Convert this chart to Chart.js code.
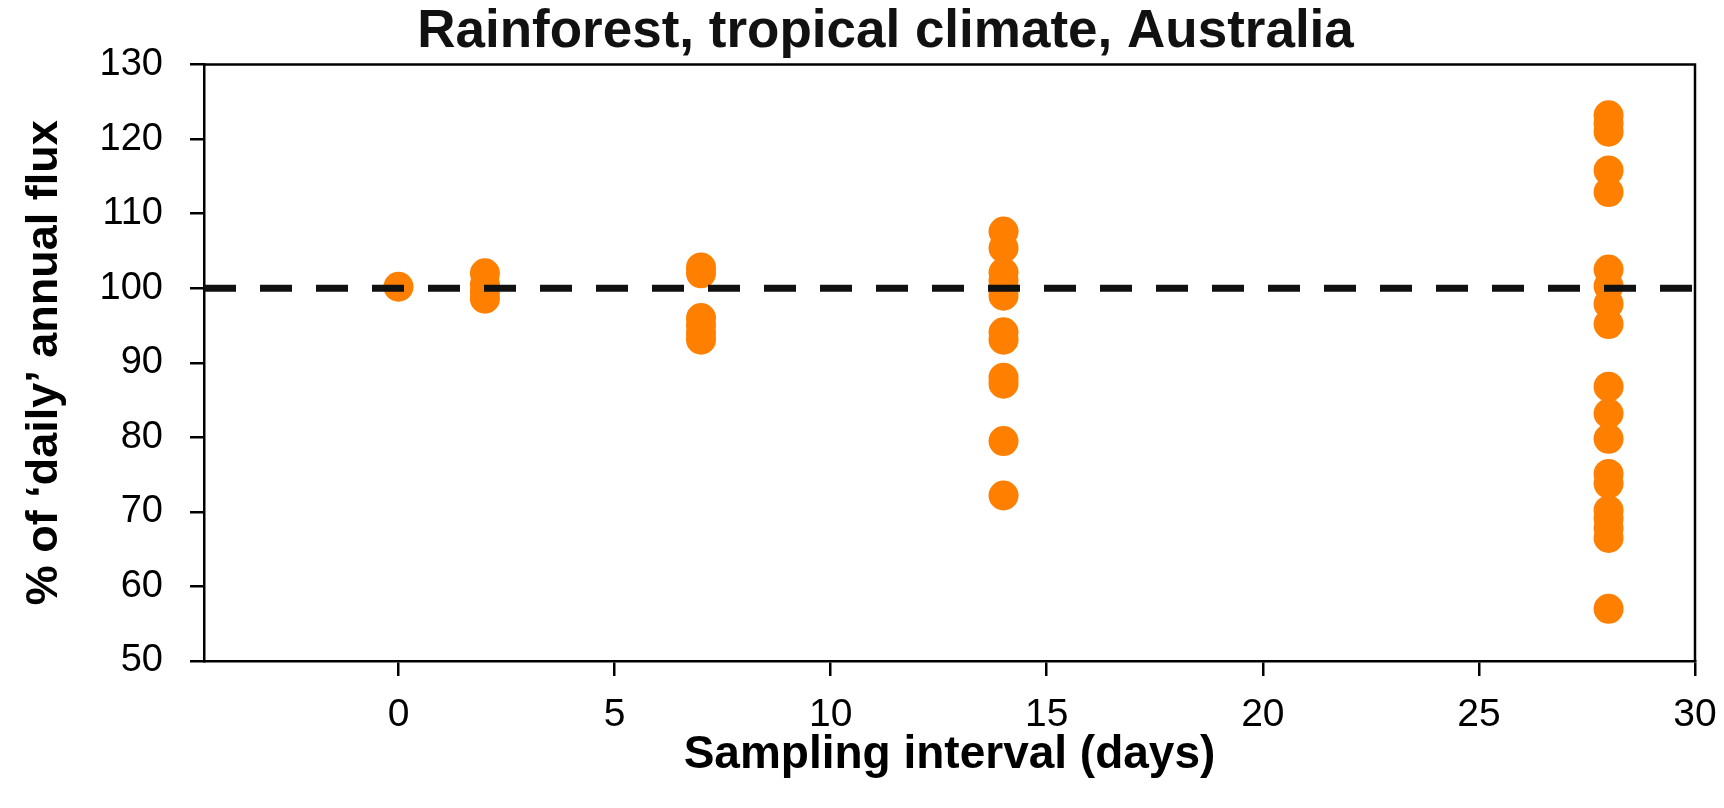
<!DOCTYPE html>
<html>
<head>
<meta charset="utf-8">
<script src="https://cdn.jsdelivr.net/npm/chart.js@4"></script>
<style>
  html, body { margin: 0; padding: 0; background: #fff; }
  canvas { display: block; }
</style>
</head>
<body>
<canvas id="fluxChart" width="1724" height="808"></canvas>
<script>
// sampling intervals (days) and the % of the daily-based annual flux for each run
const day0 = [100.2];
const day2 = [102.0, 100.5, 99.5, 98.6];
const day7 = [102.8, 102.0, 96.0, 95.0, 94.0, 93.1];
const day14 = [107.6, 105.4, 102.1, 101.0, 100.0, 99.0, 94.1, 93.1, 88.0, 87.2, 79.5, 72.2];
const day28 = [123.2, 122.1, 121.0, 115.8, 112.9, 102.5, 100.3, 97.9, 95.2, 86.8, 83.2, 79.8,
               75.1, 73.8, 70.2, 69.1, 67.8, 66.5, 57.0];

const intervals = [0, 2, 7, 14, 28];
const groups = [day0, day2, day7, day14, day28];

const refLevel = 100;
const xRange = [-4.5, 30];
const xTicks = [0, 5, 10, 15, 20, 25, 30];
const yTicks = [50, 60, 70, 80, 90, 100, 110, 120, 130];

const points = [];
groups.forEach((vals, i) => {
  vals.forEach(v => points.push({ x: intervals[i], y: v }));
});

const FONT = "'Liberation Sans', Arial, sans-serif";

// draws the closed frame around the plot, and nudges the title a bit to the right
const frameBox = {
  id: 'frameBox',
  afterLayout(chart) {
    const t = chart.titleBlock;
    if (t) { t.left += 38; t.right += 38; }
  },
  beforeDatasetsDraw(chart) {
    const { ctx, chartArea: a } = chart;
    ctx.save();
    ctx.strokeStyle = '#000';
    ctx.lineWidth = 2.5;
    ctx.beginPath();
    ctx.moveTo(a.left, a.top);
    ctx.lineTo(a.right, a.top);
    ctx.lineTo(a.right, a.bottom);
    ctx.stroke();
    ctx.restore();
  }
};

new Chart(document.getElementById('fluxChart'), {
  type: 'scatter',
  data: {
    datasets: [
      {
        type: 'line',
        data: [{ x: xRange[0], y: refLevel }, { x: xRange[1], y: refLevel }],
        borderColor: '#111',
        borderWidth: 7,
        borderDash: [32, 24],
        pointRadius: 0,
        fill: false,
        order: 0
      },
      {
        data: points,
        backgroundColor: '#ff8000',
        borderWidth: 0,
        pointRadius: 15,
        pointHoverRadius: 15,
        order: 1
      }
    ]
  },
  options: {
    responsive: false,
    animation: false,
    layout: { padding: { left: 0, right: 29, top: 0, bottom: 0 } },
    plugins: {
      legend: { display: false },
      tooltip: { enabled: false },
      title: {
        display: true,
        text: 'Rainforest, tropical climate, Australia',
        color: '#111',
        font: { family: FONT, size: 53, weight: 'bold' },
        padding: { top: 1, bottom: 0 }
      }
    },
    scales: {
      x: {
        type: 'linear',
        min: xRange[0],
        max: xRange[1],
        afterBuildTicks: s => { s.ticks = xTicks.map(v => ({ value: v })); },
        afterFit: s => { s.height = 147; s.paddingLeft = 0; s.paddingRight = 0; },
        border: { display: true, color: '#000', width: 2.5 },
        grid: { display: true, drawOnChartArea: false, drawTicks: true, tickLength: 15, color: '#000', lineWidth: 2.5 },
        ticks: { color: '#000', font: { family: FONT, size: 39 }, padding: 16, maxRotation: 0 },
        title: {
          display: true,
          text: 'Sampling interval (days)',
          color: '#000',
          font: { family: FONT, size: 46, weight: 'bold' },
          padding: { top: 0, bottom: 25 }
        }
      },
      y: {
        min: 50,
        max: 130,
        afterBuildTicks: s => { s.ticks = yTicks.map(v => ({ value: v })); },
        afterFit: s => { s.width = 204; s.paddingTop = 0; s.paddingBottom = 0; },
        border: { display: true, color: '#000', width: 2.5 },
        grid: { display: true, drawOnChartArea: false, drawTicks: true, tickLength: 14, color: '#000', lineWidth: 2.5 },
        ticks: { color: '#000', font: { family: FONT, size: 38 }, padding: 27 },
        title: {
          display: true,
          text: '% of ‘daily’ annual flux',
          color: '#000',
          font: { family: FONT, size: 45, weight: 'bold' },
          padding: { top: 18, bottom: 0 }
        }
      }
    }
  },
  plugins: [frameBox]
});
</script>
</body>
</html>
